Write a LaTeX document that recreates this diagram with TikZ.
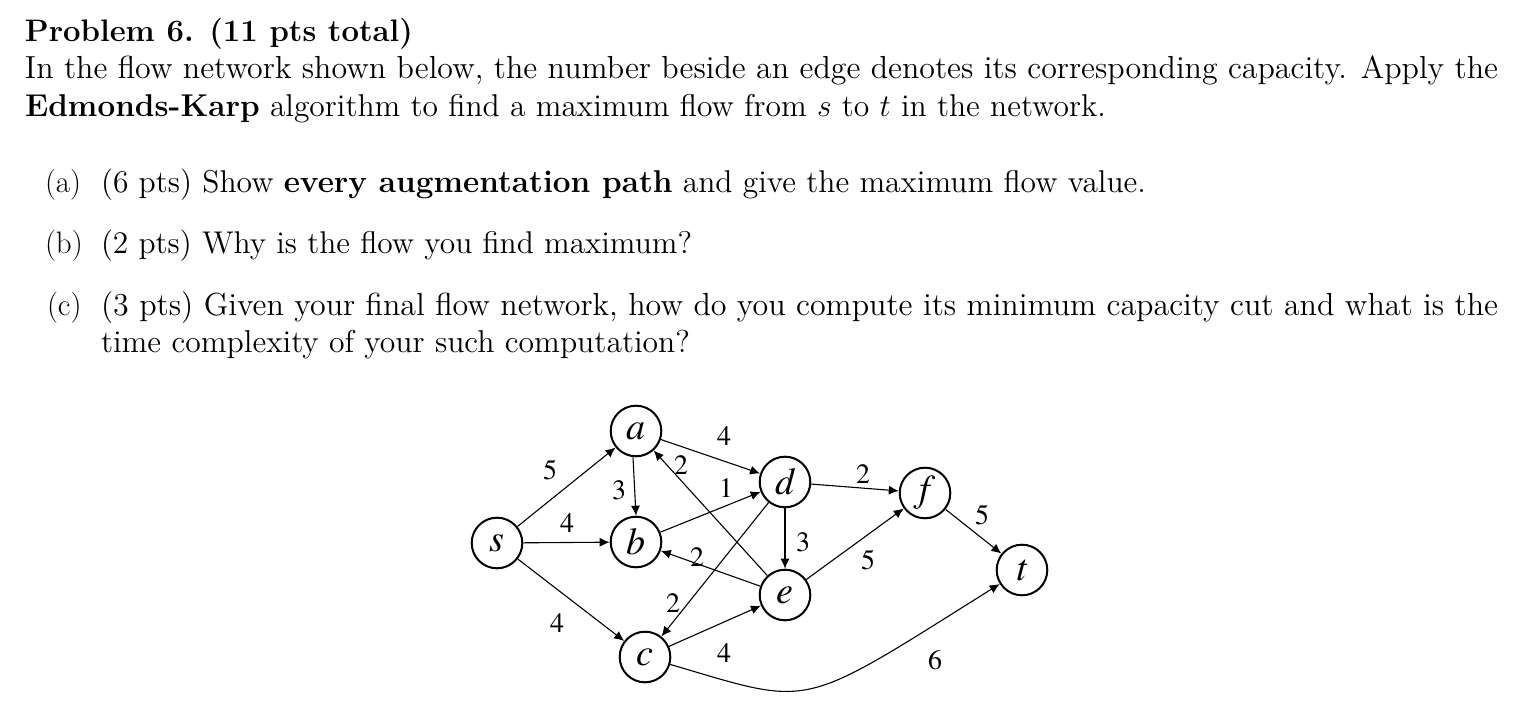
\documentclass[tikz,border=0pt]{standalone}
\usepackage{fontspec}
\usepackage{graphicx}
\usetikzlibrary{arrows.meta}
\newfontfamily\tnr{TeX Gyre Termes}
\newcommand{\tl}[2]{\resizebox{#1}{!}{\fontsize{12}{14}\selectfont #2}}
\begin{document}
\begin{tikzpicture}[x=0.5pt,y=-0.5pt,
  txt/.style={inner sep=0pt, outer sep=0pt, anchor=base west},
  lab/.style={inner sep=0pt, outer sep=0pt, anchor=base west, font=\fontsize{15.5}{18}\selectfont},
  vtx/.style={circle, draw, line width=1pt, minimum size=25.3pt, inner sep=0pt,
    font=\fontsize{19}{22}\selectfont\tnr\itshape},
  arr/.style={-{Latex[length=5pt,width=4.5pt]}, line width=0.55pt},
  wlab/.style={inner sep=0pt, font=\fontsize{14}{16}\selectfont\tnr}]
\useasboundingbox (0,0) rectangle (1521,706);
% text
\node[txt] (t1) at (25,42) {\tl{194pt}{\textbf{Problem 6. (11 pts total)}}};
\node[txt] (t2) at (25,79) {\tl{736.5pt}{In the flow network shown below, the number beside an edge denotes its corresponding capacity. Apply the}};
\node[txt] (t3) at (25,116) {\tl{540.5pt}{\textbf{Edmonds-Karp} algorithm to find a maximum flow from $s$ to $t$ in the network.}};
\node[lab] (la) at (45,192) {(a)};
\node[txt] (ta) at (101,192) {\tl{522.5pt}{(6 pts) Show \textbf{every augmentation path} and give the maximum flow value.}};
\node[lab] (lb) at (45,253) {(b)};
\node[txt] (tb) at (101,253) {\tl{295.5pt}{(2 pts) Why is the flow you find maximum?}};
\node[lab] (lc) at (47,315) {(c)};
\node[txt] (tc) at (101,315) {\tl{698.5pt}{(3 pts) Given your final flow network, how do you compute its minimum capacity cut and what is the}};
\node[txt] (td) at (101,352) {\tl{294.5pt}{time complexity of your such computation?}};
% graph
\node[vtx] (s) at (497,543) {s};
\node[vtx] (a) at (636,431) {a};
\node[vtx] (b) at (636,542) {b};
\node[vtx] (c) at (645,657) {c};
\node[vtx] (d) at (785,482) {d};
\node[vtx] (e) at (785,595) {e};
\node[vtx] (f) at (925,493) {f};
\node[vtx] (t) at (1022,570) {t};
\draw[arr] (s) -- (a);
\draw[arr] (s) -- (b);
\draw[arr] (s) -- (c);
\draw[arr] (a.south) ++(-3,0) coordinate (abs) -- (b.north);
\draw[arr] (a) -- (d);
\draw[arr] (e) -- (a);
\draw[arr] (b) -- (d);
\draw[arr] (e) -- (b);
\draw[arr] (d) -- (c);
\draw[arr] (c) -- (e);
\draw[arr] (d) -- (e);
\draw[arr] (d) -- (f);
\draw[arr] (e) -- (f);
\draw[arr] (f) -- (t);
\draw[arr] (c) .. controls (815,707) and (797,711) .. (t);
\node[wlab] (c1) at (550,470) {5};
\node[wlab] (c2) at (567,523) {4};
\node[wlab] (c3) at (619,490) {3};
\node[wlab] (c4) at (557,623) {4};
\node[wlab] (c5) at (724,436) {4};
\node[wlab] (c6) at (681,465) {2};
\node[wlab] (c7) at (726,488) {1};
\node[wlab] (c8) at (697,557) {2};
\node[wlab] (c9) at (673,603) {2};
\node[wlab] (c10) at (724,653) {4};
\node[wlab] (c11) at (803,542) {3};
\node[wlab] (c12) at (863,474) {2};
\node[wlab] (c13) at (868,560) {5};
\node[wlab] (c14) at (982,515) {5};
\node[wlab] (c15) at (935,660) {6};
\end{tikzpicture}
\end{document}
